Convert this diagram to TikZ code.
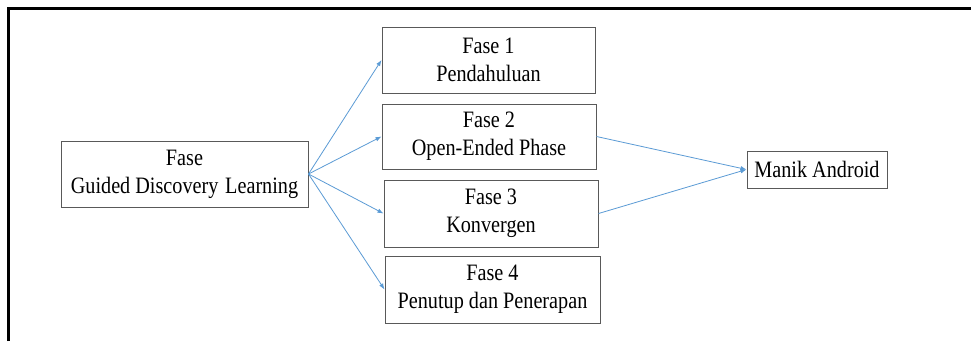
\documentclass[tikz,border=0pt]{standalone}
\usepackage{fontspec}
\usepackage{graphicx}
\setmainfont{Liberation Serif}
\usetikzlibrary{arrows.meta}
\definecolor{arrowblue}{HTML}{5B9BD5}
\definecolor{boxgray}{HTML}{595959}
\newcommand{\cond}[1]{\scalebox{0.86}[1]{#1}}
\tikzset{
  phasebox/.style={draw=boxgray, line width=1pt, rectangle, inner sep=0pt, align=center,
    font=\rmfamily\fontsize{23.5}{28}\selectfont, text=black},
  flowarrow/.style={draw=arrowblue, line width=0.8pt, -{Latex[length=6pt,width=4.5pt]}}
}
\begin{document}
\begin{tikzpicture}[x=1pt,y=-1pt]
\useasboundingbox (0,0) rectangle (971,341);
\fill[white] (0,0) rectangle (971,341);
\coordinate (fb) at (8.5,341);
\coordinate (fc) at (8.5,8.5);
\coordinate (fr) at (971,8.5);
\draw[line width=3pt, black] (fb) -- (fc) -- (fr);

\node[phasebox, minimum width=247pt, minimum height=66pt] (gdl) at (184.5,174) {\cond{Fase}\\ \cond{Guided Discovery\hspace{2pt} Learning}};
\node[phasebox, minimum width=213pt, minimum height=66pt] (f1) at (488.5,60) {\cond{Fase 1}\\ \cond{Pendahuluan}};
\node[phasebox, minimum width=214pt, minimum height=65pt] (f2) at (489,136.5) {\cond{Fase 2}\\ \cond{Open-Ended Phase}};
\node[phasebox, minimum width=214pt, minimum height=67pt] (f3) at (491,213.5) {\cond{Fase 3}\\ \cond{Konvergen}};
\node[phasebox, minimum width=215pt, minimum height=67pt] (f4) at (492.5,289.5) {\cond{Fase 4}\\ \cond{Penutup dan Penerapan}};
\node[phasebox, minimum width=140pt, minimum height=37pt] (ma) at (817,169.5) {\cond{Manik Android}};

\draw[flowarrow] (gdl.east) -- (f1.west);
\draw[flowarrow] (gdl.east) -- (f2.west);
\draw[flowarrow] (gdl.east) -- (f3.west);
\draw[flowarrow] (gdl.east) -- (f4.west);
\draw[flowarrow] (f2.east) -- (ma.west);
\draw[flowarrow] (f3.east) -- (ma.west);
\end{tikzpicture}
\end{document}
